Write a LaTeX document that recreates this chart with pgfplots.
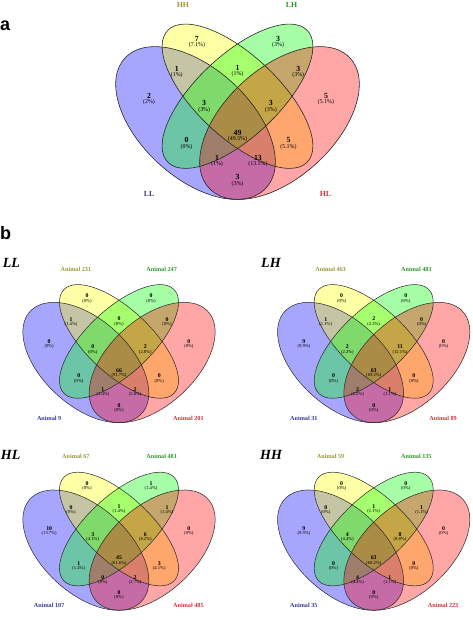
\documentclass[border=0pt]{standalone}
\usepackage{pgfplots}
\pgfplotsset{compat=1.18}
\usepackage{pgfplotstable}
\usepackage{fontspec}
\setmainfont{Liberation Serif}
\newfontfamily\sansfont{Liberation Sans}

\definecolor{vblue}{RGB}{0,0,255}
\definecolor{vyellow}{RGB}{255,255,0}
\definecolor{vgreen}{RGB}{0,255,0}
\definecolor{vred}{RGB}{255,0,0}
\definecolor{labB}{RGB}{55,55,160}
\definecolor{labY}{RGB}{155,150,55}
\definecolor{labG}{RGB}{45,150,45}
\definecolor{labR}{RGB}{205,50,60}

% region label tables: x y count percent
\pgfplotstableread{
x y n p
0.355 0.785 7 7.1
0.645 0.785 3 3
0.283 0.673 1 1
0.5 0.677 1 1
0.717 0.673 3 3
0.184 0.571 2 2
0.816 0.571 5 5.1
0.381 0.544 3 3
0.619 0.544 3 3
0.5 0.4325 49 49.5
0.318 0.406 0 0
0.682 0.406 5 5.1
0.427 0.341 1 1
0.573 0.341 13 13.1
0.5 0.268 3 3
}\tabA

\pgfplotstableread{
x y n p
0.355 0.785 0 0
0.645 0.785 0 0
0.283 0.673 1 1.4
0.5 0.677 0 0
0.717 0.673 0 0
0.184 0.571 0 0
0.816 0.571 0 0
0.381 0.544 0 0
0.619 0.544 2 2.8
0.5 0.4325 66 91.7
0.318 0.406 0 0
0.682 0.406 0 0
0.427 0.341 1 1.4
0.573 0.341 2 2.8
0.5 0.268 0 0
}\tabLL

\pgfplotstableread{
x y n p
0.355 0.785 0 0
0.645 0.785 0 0
0.283 0.673 1 1.1
0.5 0.677 2 2.2
0.717 0.673 0 0
0.184 0.571 9 9.9
0.816 0.571 0 0
0.381 0.544 2 2.2
0.619 0.544 11 12.1
0.5 0.4325 63 69.2
0.318 0.406 0 0
0.682 0.406 0 0
0.427 0.341 2 2.2
0.573 0.341 1 1.1
0.5 0.268 0 0
}\tabLH

\pgfplotstableread{
x y n p
0.355 0.785 0 0
0.645 0.785 1 1.4
0.283 0.673 0 0
0.5 0.677 1 1.4
0.717 0.673 1 1.4
0.184 0.571 10 13.7
0.816 0.571 0 0
0.381 0.544 3 4.1
0.619 0.544 6 8.2
0.5 0.4325 45 61.6
0.318 0.406 1 1.4
0.682 0.406 3 4.1
0.427 0.341 0 0
0.573 0.341 2 2.7
0.5 0.268 0 0
}\tabHL

\pgfplotstableread{
x y n p
0.355 0.785 0 0
0.645 0.785 0 0
0.283 0.673 0 0
0.5 0.677 1 1.1
0.717 0.673 1 1.1
0.184 0.571 9 9.9
0.816 0.571 0 0
0.381 0.544 4 4.4
0.619 0.544 8 8.8
0.5 0.4325 63 69.2
0.318 0.406 0 0
0.682 0.406 0 0
0.427 0.341 4 4.4
0.573 0.341 1 1.1
0.5 0.268 0 0
}\tabHH

\pgfplotsset{
  venn/.style={hide axis, scale only axis, xmin=0, xmax=1, ymin=0, ymax=1,
    clip=false, anchor=south west},
}

% #1 long radius (0.35u), #2 blue/red short (0.2u), #3 yellow/green short (0.15u), #4 y ratio, #5 line width
\newcommand\VennSets[5]{%
  \fill[vblue, fill opacity=0.35] (axis cs:0.35,0.47) ellipse [x radius=#1pt, y radius=#2pt, yscale=#4, rotate=-45];
  \fill[vyellow, fill opacity=0.35] (axis cs:0.5,0.57) ellipse [x radius=#1pt, y radius=#3pt, yscale=#4, rotate=-45];
  \fill[vgreen, fill opacity=0.35] (axis cs:0.5,0.57) ellipse [x radius=#1pt, y radius=#3pt, yscale=#4, rotate=45];
  \fill[vred, fill opacity=0.35] (axis cs:0.65,0.47) ellipse [x radius=#1pt, y radius=#2pt, yscale=#4, rotate=45];
  \draw[black!85, line width=#5] (axis cs:0.35,0.47) ellipse [x radius=#1pt, y radius=#2pt, yscale=#4, rotate=-45];
  \draw[black!85, line width=#5] (axis cs:0.5,0.57) ellipse [x radius=#1pt, y radius=#3pt, yscale=#4, rotate=-45];
  \draw[black!85, line width=#5] (axis cs:0.5,0.57) ellipse [x radius=#1pt, y radius=#3pt, yscale=#4, rotate=45];
  \draw[black!85, line width=#5] (axis cs:0.65,0.47) ellipse [x radius=#1pt, y radius=#2pt, yscale=#4, rotate=45];
}

% #1 table, #2 count font size, #3 percent font size
\newcommand\VennNums[3]{%
  \addplot[draw=none, mark=none, nodes near coords, point meta=explicit symbolic,
    nodes near coords style={anchor=center, inner sep=0pt, text=black,
      font=\bfseries\fontsize{#2}{#2}\selectfont}]
    table[x=x, y=y, meta=n] {#1};
  \addplot[draw=none, mark=none, nodes near coords={(\pgfplotspointmeta\%)}, point meta=explicit symbolic,
    nodes near coords style={anchor=center, inner sep=0pt, text=black,
      font=\fontsize{#3}{#3}\selectfont}]
    table[x=x, y expr=\thisrow{y}-0.024, meta=p] {#1};
}

% #1..#4 labels: blue, yellow, green, red ; #5 font size
\newcommand\VennLabels[5]{%
  \node[font=\bfseries\fontsize{#5}{#5}\selectfont, text=labB] at (axis cs:0.184,0.206) {#1};
  \node[font=\bfseries\fontsize{#5}{#5}\selectfont, text=labY] at (axis cs:0.305,0.912) {#2};
  \node[font=\bfseries\fontsize{#5}{#5}\selectfont, text=labG] at (axis cs:0.693,0.912) {#3};
  \node[font=\bfseries\fontsize{#5}{#5}\selectfont, text=labR] at (axis cs:0.814,0.206) {#4};
}

\begin{document}
\begin{tikzpicture}
\useasboundingbox (0,0) rectangle (472pt,620pt);

% panel a
\begin{axis}[venn, width=280pt, height=268pt, at={(97.5pt,371pt)}]
  \VennSets{98}{56}{42}{0.957}{0.6pt}
  \VennNums{\tabA}{7.8}{5.9}
  \VennLabels{LL}{HH}{LH}{HL}{7.8}
\end{axis}

% LL
\begin{axis}[venn, width=221pt, height=211pt, at={(8.5pt,158.3pt)}]
  \VennSets{77.35}{44.2}{33.15}{0.955}{0.5pt}
  \VennNums{\tabLL}{5.8}{4.6}
  \VennLabels{Animal 9}{Animal 231}{Animal 247}{Animal 201}{6.2}
\end{axis}

% LH
\begin{axis}[venn, width=221pt, height=211pt, at={(263.2pt,158.3pt)}]
  \VennSets{77.35}{44.2}{33.15}{0.955}{0.5pt}
  \VennNums{\tabLH}{5.8}{4.6}
  \VennLabels{Animal 31}{Animal 463}{Animal 483}{Animal 89}{6.2}
\end{axis}

% HL
\begin{axis}[venn, width=221pt, height=211pt, at={(8.5pt,-29.3pt)}]
  \VennSets{77.35}{44.2}{33.15}{0.955}{0.5pt}
  \VennNums{\tabHL}{5.8}{4.6}
  \VennLabels{Animal 107}{Animal 67}{Animal 481}{Animal 485}{6.2}
\end{axis}

% HH
\begin{axis}[venn, width=221pt, height=211pt, at={(263.2pt,-29.3pt)}]
  \VennSets{77.35}{44.2}{33.15}{0.955}{0.5pt}
  \VennNums{\tabHH}{5.8}{4.6}
  \VennLabels{Animal 35}{Animal 59}{Animal 135}{Animal 223}{6.2}
\end{axis}

% panel letters and titles
\node[anchor=base west, inner sep=0pt, font=\sansfont\bfseries\fontsize{18}{18}\selectfont] at (0pt,589.3pt) {a};
\node[anchor=base west, inner sep=0pt, font=\sansfont\bfseries\fontsize{18}{18}\selectfont] at (0pt,380pt) {b};
\node[anchor=base west, inner sep=0pt, font=\bfseries\itshape\fontsize{14}{14}\selectfont] at (2.7pt,352.3pt) {LL};
\node[anchor=base west, inner sep=0pt, font=\bfseries\itshape\fontsize{14}{14}\selectfont] at (261pt,352.3pt) {LH};
\node[anchor=base west, inner sep=0pt, font=\bfseries\itshape\fontsize{14}{14}\selectfont] at (0.7pt,160.7pt) {HL};
\node[anchor=base west, inner sep=0pt, font=\bfseries\itshape\fontsize{14}{14}\selectfont] at (260pt,160pt) {HH};
\end{tikzpicture}
\end{document}
